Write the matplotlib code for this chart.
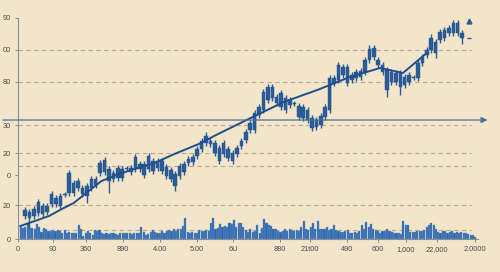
import matplotlib
matplotlib.use('Agg')
import matplotlib.pyplot as plt
import numpy as np

# candle data (price units), one entry per session
opens = [23, 21, 23, 26, 25, 27, 35, 35, 33, 44, 46, 46, 51, 45, 43, 51, 54, 66, 67, 58,
         60, 61, 61, 70, 67, 70, 70, 64, 70, 68, 71, 68, 63, 60, 53, 63, 67, 76, 77, 83,
         90, 96, 95, 86, 78, 85, 81, 78, 85, 93, 99, 109, 109, 124, 129, 139, 141, 136, 132, 129,
         134, 135, 122, 121, 119, 111, 112, 114, 122, 129, 156, 159, 164, 156, 159, 161, 162, 167, 179, 182,
         174, 167, 149, 157, 157, 152, 154, 157, 161, 161, 176, 184, 189, 186, 199, 201, 206, 206, 206, 201]
closes = [29, 27, 30, 37, 33, 33, 45, 41, 43, 45, 66, 56, 58, 51, 53, 60, 60, 76, 79, 70,
          66, 71, 70, 71, 71, 82, 75, 75, 83, 78, 78, 78, 72, 69, 65, 73, 75, 80, 82, 90,
          98, 103, 98, 96, 91, 96, 90, 86, 91, 98, 107, 116, 126, 132, 147, 152, 152, 142, 146, 141,
          139, 136, 133, 132, 129, 121, 119, 123, 132, 161, 161, 174, 172, 172, 164, 167, 168, 179, 190, 191,
          179, 174, 169, 167, 166, 166, 162, 164, 162, 176, 182, 189, 201, 197, 207, 209, 211, 216, 216, 206]
highs = [32, 30, 33, 40, 36, 36, 48, 44, 46, 47, 69, 59, 61, 54, 56, 63, 63, 79, 82, 73,
         69, 74, 73, 73, 74, 85, 78, 78, 86, 81, 81, 81, 75, 72, 68, 76, 78, 83, 85, 93,
         101, 107, 101, 99, 94, 99, 93, 89, 94, 101, 110, 119, 129, 135, 150, 155, 155, 145, 149, 144,
         142, 138, 136, 135, 132, 124, 122, 126, 135, 164, 164, 177, 175, 175, 167, 170, 171, 182, 194, 194,
         182, 177, 172, 170, 169, 169, 165, 167, 164, 179, 185, 192, 205, 200, 210, 212, 214, 219, 219, 209]
lows = [20, 10, 20, 23, 22, 24, 32, 32, 30, 42, 43, 43, 48, 42, 36, 48, 51, 63, 64, 46,
        57, 58, 58, 68, 64, 67, 67, 61, 67, 65, 68, 65, 60, 57, 48, 60, 64, 73, 74, 80,
        87, 93, 92, 83, 75, 82, 78, 75, 82, 90, 96, 106, 106, 121, 126, 136, 138, 133, 129, 126,
        131, 133, 119, 118, 116, 108, 109, 111, 119, 126, 153, 156, 161, 153, 156, 158, 159, 164, 176, 179,
        171, 164, 142, 154, 154, 144, 151, 154, 159, 158, 173, 181, 186, 181, 196, 198, 203, 203, 203, 195]

# smoothed trend line, sampled at a few sessions
trend_idx = [-1.1, 5.4, 8.3, 11.0, 14.4, 17.3, 21.2, 24.8, 29.3, 33.8, 39.9, 42.8, 51.1,
             58.6, 66.2, 73.6, 80.4, 85.6, 91.0]
trend_val = [13, 23, 30, 36, 48, 58, 65, 70, 76, 85, 96, 103, 121, 137, 149, 162, 171, 166, 186]

# volume
volume = [12, 11, 12, 16, 11, 11, 10, 15, 12, 7, 11, 10, 8, 8, 9, 8, 9, 8, 6, 9,
          6, 7, 6, 6, 6, 14, 10, 3, 6, 8, 6, 4, 9, 8, 9, 6, 5, 6, 5, 6,
          6, 5, 4, 6, 6, 6, 6, 6, 5, 6, 6, 6, 12, 7, 4, 5, 7, 9, 7, 6,
          6, 8, 6, 8, 9, 8, 10, 8, 10, 10, 13, 21, 7, 6, 7, 6, 6, 9, 8, 8,
          9, 8, 16, 21, 10, 11, 15, 12, 13, 12, 16, 15, 19, 12, 16, 16, 12, 9, 7, 10,
          7, 8, 14, 6, 11, 20, 16, 14, 13, 10, 10, 8, 7, 8, 10, 8, 10, 9, 8, 9,
          8, 12, 18, 10, 9, 12, 16, 10, 18, 10, 10, 10, 12, 9, 10, 14, 9, 8, 7, 7,
          8, 9, 6, 6, 7, 6, 8, 14, 10, 17, 12, 15, 10, 9, 8, 6, 8, 8, 10, 8,
          7, 6, 6, 6, 5, 18, 14, 14, 7, 7, 7, 8, 8, 8, 9, 12, 14, 16, 14, 10,
          7, 6, 8, 8, 6, 7, 8, 6, 7, 6, 7, 6, 6, 5, 4, 4, 2]

ytick_pos = [221, 189, 157, 114, 86, 64, 34, 0]
ytick_lab = ['90', '00', '80', '30', '20', '0', '20', '0']
xtick_pos = [-1.6, 6.3, 13.7, 22.1, 30.6, 38.9, 47.1, 57.7, 64.6, 73.0, 79.9, 86.3, 93.4, 102.0]
xtick_lab = ['0', '90', '360', '890', '4.00', '5.00', '6U', '880', '21t00', '490', '600',
             '1,000', '22,000', '2.0000']
grid_lines = [189, 157, 114, 86, 73, 34, 9]
base_line = 119

bg = '#F2E5C9'
blue = '#2A5C9A'

plt.rcParams['font.family'] = ['Liberation Sans', 'DejaVu Sans']

fig = plt.figure(figsize=(5, 2.72), dpi=100, facecolor=bg)
ax = fig.add_axes([0.036, 0.121, 0.92, 0.813])
ax.set_facecolor(bg)

x = np.arange(len(opens))
xv = np.linspace(-1.0, 102.0, len(volume))

for g in grid_lines:
    ax.axhline(g, color='#B5A994', lw=0.8, ls=(0, (4, 3)), zorder=1, xmax=0.985)

ax.bar(xv, volume, width=0.48, color='#2F66AA', edgecolor='#6A98CC', linewidth=0.3, zorder=2)

body_lo = np.minimum(opens, closes)
body_hi = np.maximum(opens, closes)
ax.vlines(x, lows, highs, color=blue, lw=1.0, zorder=3)
ax.bar(x, body_hi - body_lo, bottom=body_lo, width=0.8, color=blue, edgecolor='#24528E',
       linewidth=0.3, zorder=4)

ax.plot(trend_idx, trend_val, color='#1F4E8C', lw=1.4, zorder=5)

ax.plot([100.5], [218], marker='^', ms=3.5, color=blue, zorder=5)
ax.plot([100.5], [201], marker='_', ms=3, color=blue, zorder=5)

ax.annotate('', xy=(0.975, base_line), xytext=(0.006, base_line),
            xycoords=('figure fraction', 'data'), textcoords=('figure fraction', 'data'),
            arrowprops=dict(arrowstyle='-|>', color='#4F6F93', lw=0.9,
                            mutation_scale=9, shrinkA=0, shrinkB=0), zorder=6)

ax.set_xlim(-1.13, 102.6)
ax.set_ylim(0, 221)
ax.set_yticks(ytick_pos)
ax.set_yticklabels(ytick_lab)
ax.set_xticks(xtick_pos)
ax.set_xticklabels(xtick_lab)
ax.tick_params(axis='both', labelsize=5.3, colors='#8A8A8A', labelcolor='#4A4A4A',
               length=2.5, width=0.7, pad=2.5)
for s in ['top', 'right']:
    ax.spines[s].set_visible(False)
for s in ['left', 'bottom']:
    ax.spines[s].set_color('#8A8E96')
    ax.spines[s].set_linewidth(0.8)

plt.savefig('out.png', dpi=100, facecolor=bg)
